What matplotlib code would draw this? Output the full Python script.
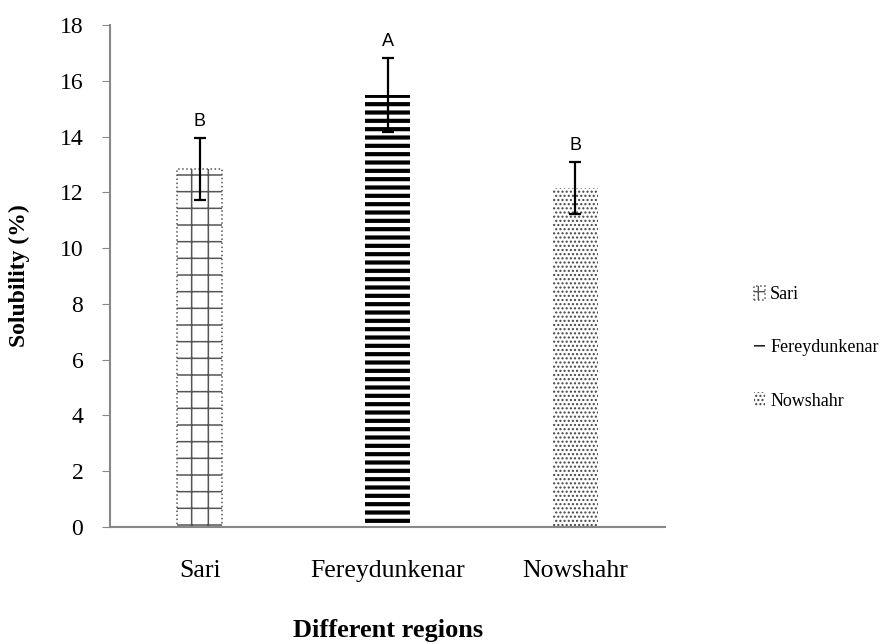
import numpy as np
import matplotlib
matplotlib.use("Agg")
import matplotlib.pyplot as plt

regions = ["Sari", "Fereydunkenar", "Nowshahr"]
solubility = [12.84, 15.49, 12.16]
errors = [1.1, 1.32, 0.92]
letters = ["B", "A", "B"]

hatches = ["+", "--", "...."]
hatch_colors = ["#555555", "black", "#444444"]
hatch_widths = [1.1, 3.0, 1.0]

plt.rcParams['font.family'] = ['Liberation Serif', 'DejaVu Serif']

fig = plt.figure(figsize=(8.92, 6.44), dpi=100)
ax = fig.add_axes([0.123, 0.182, 0.623, 0.779])

x = np.arange(len(regions))
bars = ax.bar(x, solubility, width=0.24, color="white", edgecolor="none", zorder=2)
for b, h, c, w, name in zip(bars, hatches, hatch_colors, hatch_widths, regions):
    b.set_hatch(h)
    b._hatch_color = matplotlib.colors.to_rgba(c)
    if hasattr(b, "set_hatch_linewidth"):
        b.set_hatch_linewidth(w)
    b.set_label(name)
# dotted outline on the Sari bar like the grid pattern
bars[0].set_edgecolor("#555555")
bars[0].set_linestyle(":")
bars[0].set_linewidth(1.1)

ax.errorbar(x, solubility, yerr=errors, fmt="none", ecolor="black",
            elinewidth=1.6, capsize=4.5, capthick=1.6, zorder=3)

for xi, v, e, t in zip(x, solubility, errors, letters):
    ax.text(xi, v + e + 0.3, t, ha="center", va="bottom", fontsize=13,
            family=["Liberation Sans", "DejaVu Sans"])

ax.set_xlim(-0.48, 2.48)
ax.set_ylim(0, 18)
ax.set_yticks(np.arange(0, 19, 2))
ax.set_xticks(x)
ax.set_xticklabels(regions)
ax.tick_params(axis="y", labelsize=17, length=6, color="#888888", pad=13)
ax.tick_params(axis="x", labelsize=18.5, length=0, pad=24)

for s in ["top", "right"]:
    ax.spines[s].set_visible(False)
for s in ["left", "bottom"]:
    ax.spines[s].set_color("#888888")
    ax.spines[s].set_linewidth(1.5)

ax.set_ylabel("Solubility (%)", fontsize=17, fontweight="bold")
ax.yaxis.set_label_coords(-0.143, 0.5)
ax.set_xlabel("Different regions", fontsize=19, fontweight="bold")
ax.xaxis.set_label_coords(0.5, -0.184)

leg = ax.legend(loc="center left", bbox_to_anchor=(1.159, 0.357), frameon=False,
                fontsize=13, handlelength=0.6, handleheight=0.8,
                handletextpad=0.3, labelspacing=2.0, borderpad=0,
                borderaxespad=0)

fig.savefig("out.png", dpi=100)
